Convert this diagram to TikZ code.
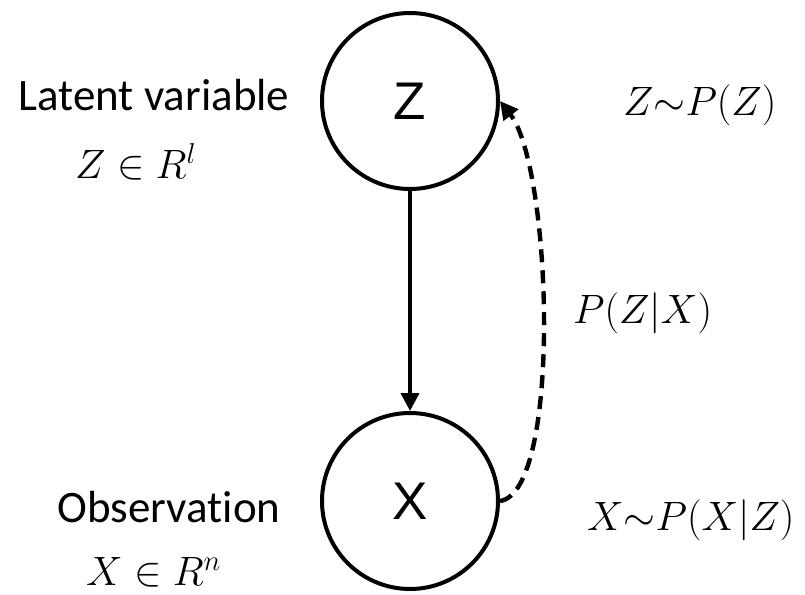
\RequirePackage{fix-cm}
\documentclass[tikz,border=0pt]{standalone}
\usepackage{fontspec}
\usepackage{amssymb}
\usetikzlibrary{arrows.meta, positioning}
\newfontfamily\labelfont[Ligatures=NoCommon]{Carlito}
\newfontfamily\varfont{Liberation Sans}

\begin{document}
\begin{tikzpicture}[
    x=1pt, y=-1pt,
    var/.style={circle, draw, line width=4pt, minimum size=176pt, inner sep=0pt, font=\fontsize{53}{60}\selectfont\varfont},
    vartext/.style={inner sep=0pt, anchor=base, font=\fontsize{45}{54}\selectfont\labelfont},
    mathlbl/.style={inner sep=0pt, anchor=base west, font=\fontsize{41}{50}\selectfont},
    arrow/.style={-{Triangle[length=18pt, width=18pt]}, line width=4pt},
    back/.style={arrow, line width=4.4pt, dash pattern=on 13pt off 8pt}
]
\useasboundingbox (0,0) rectangle (805,594);

\node[var] (z) at (410,101) {Z};
\node[var] (x) at (410,501) {X};

\draw[arrow] (z) -- (x);
\draw[back] (x.east) .. controls (562,492) and (552,168) .. (z.east);

% labels on the left
\node[vartext] (zname) at (154,110) {Latent variable};
\node[mathlbl] (zspace) at (75,178) {$Z \in R^l$};
\node[vartext] (xname) at (169,522) {Observation};
\node[mathlbl] (xspace) at (86,585) {$X \in R^n$};

% distributions on the right
\node[mathlbl] (zprior) at (623,115) {$Z{\sim}P(Z)$};
\node[mathlbl] (post) at (573,323) {$P(Z|X)$};
\node[mathlbl] (lik) at (587,530) {$X{\sim}P(X|Z)$};

\end{tikzpicture}
\end{document}
